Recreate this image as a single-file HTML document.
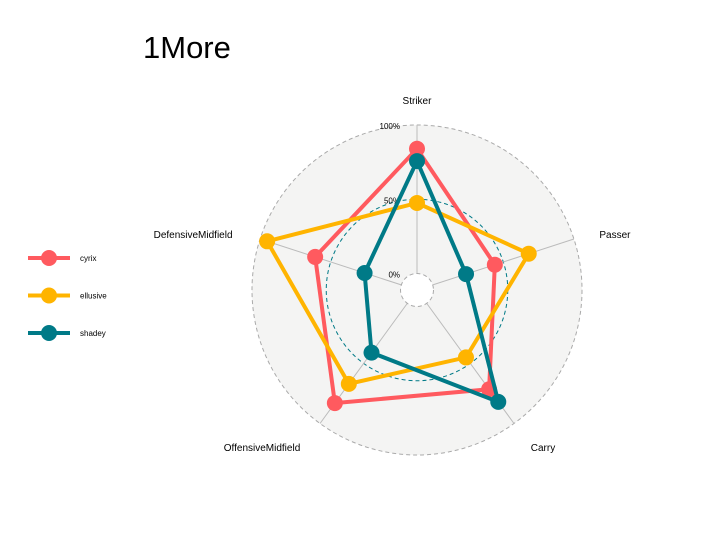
<!DOCTYPE html>
<html><head><meta charset="utf-8"><style>
body{margin:0;background:#fff;}
svg{display:block;font-family:"Liberation Sans",sans-serif;}
</style></head><body>
<svg id="chart" width="705" height="550">
<text x="143" y="58" font-size="31" fill="#000">1More</text>
<g id="grid"></g><g id="series"></g><g id="legend"></g>
</svg>
<script>
const axes=["Striker","Passer","Carry","OffensiveMidfield","DefensiveMidfield"];
const seriesNames=["cyrix","ellusive","shadey"];
const cyrix=[0.84,0.44,0.715,0.83,0.61];
const ellusive=[0.475,0.68,0.45,0.67,0.95];
const shadey=[0.757,0.236,0.82,0.41,0.26];
const colors=["#FF5A5F","#FFB400","#007A87"];
const gridLabels=["0%","50%","100%"];
const gridVals=[0,0.5,1];
const cx=417,cy=290,R=165;
const NS="http://www.w3.org/2000/svg";
function rad(v){return (v+1/9)/(10/9)*R;}
function ang(i){return -Math.PI/2+i*2*Math.PI/axes.length;}
function pt(i,v){const r=rad(v),a=ang(i);return [cx+r*Math.cos(a),cy+r*Math.sin(a)];}
function mk(t,attrs,parent){const e=document.createElementNS(NS,t);for(const k in attrs)e.setAttribute(k,attrs[k]);parent.appendChild(e);return e;}
const g=document.getElementById('grid');
let c=mk('circle',{cx:cx,cy:cy,r:rad(1),fill:'#F4F4F3',stroke:'#aaa','stroke-dasharray':'4,3','stroke-width':1},g);


c=mk('circle',{cx:cx,cy:cy,r:rad(0.5),fill:'none',stroke:'#007A87','stroke-dasharray':'4,3','stroke-width':1},g);


axes.forEach((a,i)=>{const p=pt(i,1.0);const l=mk('line',{x1:cx,y1:cy,x2:p[0],y2:p[1],stroke:'#bbb','stroke-width':1},g);

});
c=mk('circle',{cx:cx,cy:cy,r:rad(0),fill:'#fff',stroke:'#aaa','stroke-dasharray':'4,3','stroke-width':1},g);


gridVals.forEach((v,k)=>{const t=mk('text',{x:cx-17,y:cy-rad(v)+4,'font-size':8,'text-anchor':'end',fill:'#000'},g);t.textContent=gridLabels[k];

});
const labelOff=[[0,-21],[41,-1],[29,27.5],[-58,27.5],[-67,-1]];
axes.forEach((a,i)=>{const p=pt(i,1);const o=labelOff[i];const t=mk('text',{x:p[0]+o[0],y:p[1]+o[1],'font-size':10,'text-anchor':'middle',fill:'#000'},g);t.textContent=a;

});
const sg=document.getElementById('series');
[cyrix,ellusive,shadey].forEach((vals,s)=>{
 const pts=vals.map((v,i)=>pt(i,v));
 const pg=mk('polygon',{points:pts.map(p=>p.join(',')).join(' '),fill:'none',stroke:colors[s],'stroke-width':4},sg);
 
 
 pts.forEach((p,i)=>{const d=mk('circle',{cx:p[0],cy:p[1],r:8,fill:colors[s]},sg);
 
 });
});
const lg=document.getElementById('legend');
seriesNames.forEach((n,s)=>{const y=258+s*37.5;
 const l=mk('line',{x1:28,y1:y,x2:70,y2:y,stroke:colors[s],'stroke-width':4},lg);
 
 
 const d=mk('circle',{cx:49,cy:y,r:8,fill:colors[s]},lg);
 
 
 const t=mk('text',{x:80,y:y+3,'font-size':8,fill:'#000'},lg);t.textContent=n;
 
 });
</script>
</body></html>
